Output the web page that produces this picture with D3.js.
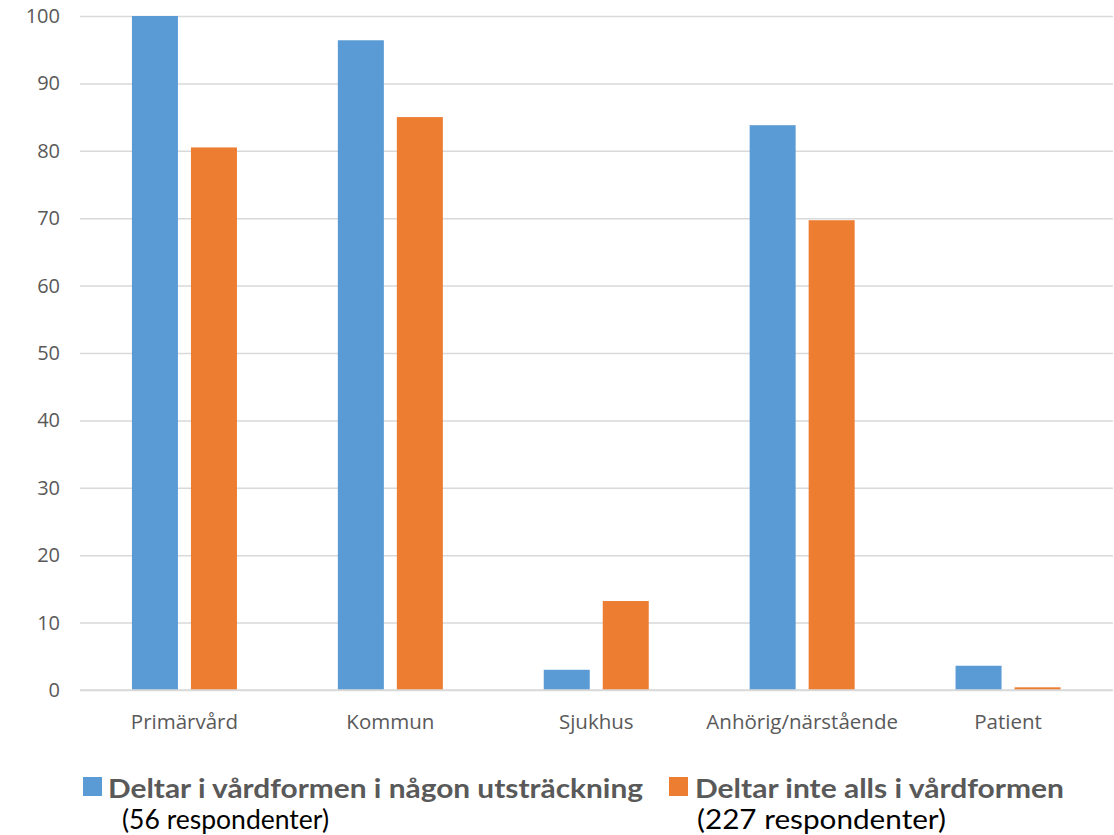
<!DOCTYPE html>
<html>
<head>
<meta charset="utf-8">
<script src="https://cdn.jsdelivr.net/npm/d3@7"></script>
<style>
  html, body { margin: 0; padding: 0; background: #fff; }
  svg { display: block; }
</style>
</head>
<body>
<svg id="chart" width="1114" height="835"></svg>
<script>
// Categories and the two series (percent of respondents)
const categories = ["Primärvård", "Kommun", "Sjukhus", "Anhörig/närstående", "Patient"];
const seriesNames = ["Deltar i vårdformen i någon utsträckning", "Deltar inte alls i vårdformen"];
const seriesNotes = ["(56 respondenter)", "(227 respondenter)"];
const deltarNagon = [100, 96.4, 3.0, 83.8, 3.6];
const deltarInte = [80.5, 85.0, 13.2, 69.7, 0.4];
const yTicks = [0, 10, 20, 30, 40, 50, 60, 70, 80, 90, 100];
const colors = ["#5b9bd5", "#ed7d31"];

const svg = d3.select("#chart");
const margin = { left: 80, right: 1, top: 16, bottom: 145 };
const width = 1114, height = 835;
const x0 = margin.left, x1 = width - margin.right;
const yBase = height - margin.bottom;

const x = d3.scaleBand().domain(categories).range([x0 + 1.5, x1 - 2]).paddingInner(0).paddingOuter(0);
const barW = 46, gap = 13;
const y = d3.scaleLinear().domain([0, 100]).range([yBase, margin.top]);

// Gridlines and y labels
const yAxis = d3.axisLeft(y).tickValues(yTicks).tickSize(-(x1 - x0)).tickPadding(20);
const gy = svg.append("g").attr("transform", `translate(${x0},0)`).call(yAxis);
gy.select(".domain").remove();
gy.selectAll(".tick line").attr("stroke", "#d9d9d9").attr("stroke-width", 1.5);
gy.selectAll(".tick text")
  .attr("fill", "#595959")
  .style("font-family", "'Open Sans', 'Liberation Sans', sans-serif")
  .style("font-size", "20px");

// Bars
const groupOffset = (x.bandwidth() - (barW * 2 + gap)) / 2;
const series = [deltarNagon, deltarInte];
series.forEach((vals, si) => {
  svg.append("g").selectAll("rect")
    .data(categories.map((c, i) => ({ c, v: vals[i] })))
    .join("rect")
    .attr("x", d => x(d.c) + groupOffset + si * (barW + gap))
    .attr("width", barW)
    .attr("y", d => y(d.v))
    .attr("height", d => yBase - y(d.v))
    .attr("fill", colors[si]);
});

// Category labels
const xAxis = d3.axisBottom(x).tickSize(0).tickPadding(24);
const gx = svg.append("g").attr("transform", `translate(0,${yBase})`).call(xAxis);
gx.select(".domain").remove();
svg.append("line")
  .attr("x1", x0).attr("x2", x1)
  .attr("y1", yBase).attr("y2", yBase)
  .attr("stroke", "#d9d9d9").attr("stroke-width", 1.5);
gx.selectAll(".tick text")
  .attr("fill", "#595959")
  .style("font-family", "'Open Sans', 'Liberation Sans', sans-serif")
  .style("font-size", "20.5px");

// Legend
const legendX = [83, 669];
const legendTextX = [108, 695];
const noteX = [122, 697];
const legendW = [535, 369];
const legendNoteW = [207, 249];
seriesNames.forEach((name, i) => {
  const g = svg.append("g");
  g.append("rect").attr("x", legendX[i]).attr("y", 777).attr("width", 19).attr("height", 19).attr("fill", colors[i]);
  g.append("text")
    .attr("x", legendTextX[i]).attr("y", 798)
    .attr("fill", "#595959")
    .attr("font-weight", "bold")
    .attr("textLength", legendW[i]).attr("lengthAdjust", "spacingAndGlyphs")
    .style("font-family", "Lato, 'Open Sans', sans-serif")
    .style("font-size", "27px")
    .text(name);
  g.append("text")
    .attr("x", noteX[i]).attr("y", 829)
    .attr("fill", "#000")
    .attr("textLength", legendNoteW[i]).attr("lengthAdjust", "spacingAndGlyphs")
    .style("font-family", "Lato, 'Open Sans', sans-serif")
    .style("font-size", "27px")
    .text(seriesNotes[i]);
});
</script>
</body>
</html>
